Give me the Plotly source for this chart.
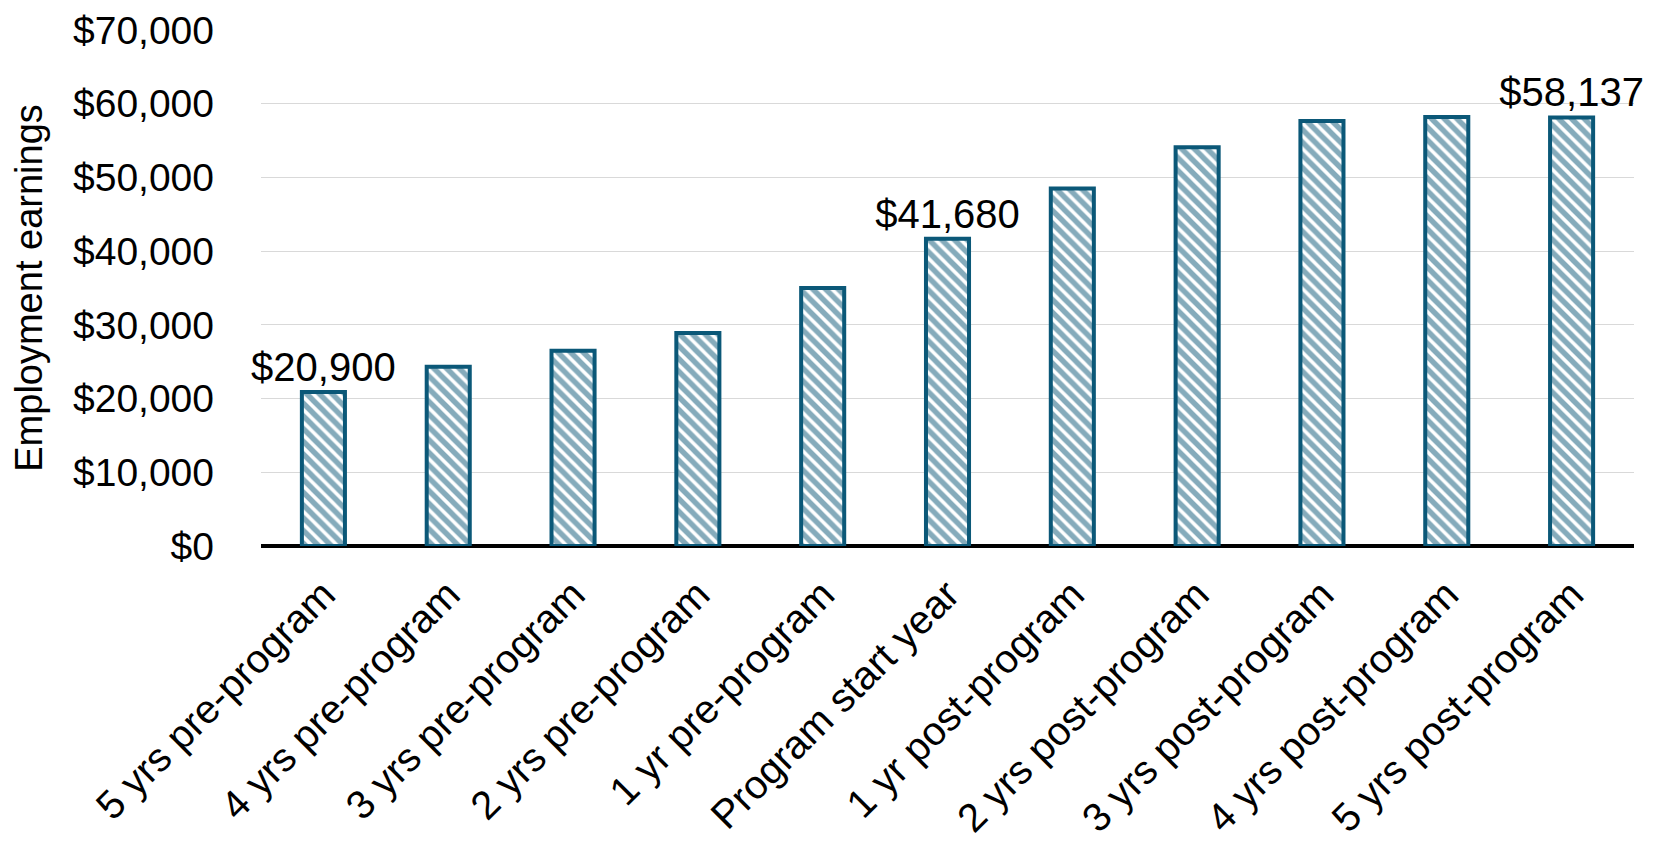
import plotly.graph_objects as go

categories = ["5 yrs pre-program", "4 yrs pre-program", "3 yrs pre-program",
              "2 yrs pre-program", "1 yr pre-program", "Program start year",
              "1 yr post-program", "2 yrs post-program", "3 yrs post-program",
              "4 yrs post-program", "5 yrs post-program"]
earnings = [20900, 24300, 26500, 28900, 35000, 41680, 48500, 54100, 57650, 58200, 58137]
labels = ["$20,900", "", "", "", "", "$41,680", "", "", "", "", "$58,137"]
tick_vals = [0, 10000, 20000, 30000, 40000, 50000, 60000, 70000]
tick_text = ["$0", "$10,000", "$20,000", "$30,000", "$40,000", "$50,000", "$60,000", "$70,000"]

teal = "#0b5878"
font_family = "Liberation Sans, Arial, sans-serif"

fig = go.Figure(go.Bar(
    x=categories, y=earnings,
    text=labels, textposition="outside", cliponaxis=False, constraintext="none",
    textfont=dict(size=40, color="#000000", family=font_family),
    marker=dict(color="white", line=dict(color=teal, width=4),
                pattern=dict(shape="\\", fgcolor=teal, bgcolor="white", size=9, solidity=0.6)),
    width=0.345,
))

fig.update_layout(
    width=1653, height=850,
    paper_bgcolor="white", plot_bgcolor="white",
    margin=dict(l=261, r=19, t=30, b=304, autoexpand=False),
    showlegend=False,
    font=dict(family=font_family, color="#000000"),
)
fig.update_xaxes(tickangle=-45, tickfont=dict(size=40), showgrid=False, ticks="",
                 showline=False, automargin=False, ticklabelstandoff=16)
fig.update_yaxes(range=[0, 70000], tickvals=tick_vals, ticktext=tick_text,
                 tickfont=dict(size=39), showgrid=True, gridcolor="#d9d9d9", gridwidth=1,
                 zeroline=True, zerolinecolor="#000000", zerolinewidth=4,
                 title=dict(text="Employment earnings", font=dict(size=38), standoff=18),
                 ticks="", automargin=False, ticklabelstandoff=46)

fig.write_html("out.html", post_script="document.body.style.margin='0';",
               config={"displayModeBar": False})
